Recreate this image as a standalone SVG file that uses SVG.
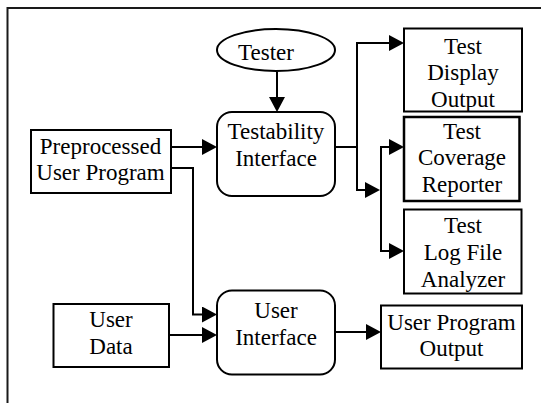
<svg xmlns="http://www.w3.org/2000/svg" width="541" height="403" viewBox="0 0 541 403">
<style>
  .box{fill:#fff;stroke:#000;stroke-width:2}
  .frame{fill:#fff;stroke:#1a1a1a;stroke-width:2}
  .t{font-family:"Liberation Serif","Times New Roman",serif;font-size:23px;fill:#000;text-anchor:middle}
  .c{fill:none;stroke:#000;stroke-width:2}
  .a{marker-end:url(#arr)}
</style>
<defs>
  <marker id="arr" markerUnits="userSpaceOnUse" markerWidth="15" markerHeight="16" viewBox="0 0 15 16" refX="10" refY="8" orient="auto">
    <path d="M0,0 L15,8 L0,16 z" fill="#000"/>
  </marker>
</defs>
<rect class="frame" x="7.5" y="8" width="600" height="500"/>

<g id="connectors">
  <path class="c a" d="M277,71.5 V107"/>
  <path class="c a" d="M171,147 H212"/>
  <path class="c a" d="M171,168 H193 V314.5 H212"/>
  <path class="c a" d="M169,335 H212"/>
  <path class="c a" d="M335,332 H376"/>
  <path class="c" d="M335,147 H357"/>
  <path class="c a" d="M357,147 V43 H399"/>
  <path class="c a" d="M357,146 V190 H375"/>
  <path class="c a" d="M381,147 H399"/>
  <path class="c a" d="M381,146 V251 H399"/>
</g>

<g id="tester">
  <ellipse class="box" cx="276" cy="50" rx="59" ry="21"/>
  <text class="t" x="266" y="60">Tester</text>
</g>
<g id="testability-interface">
  <rect class="box" x="217" y="112" width="118" height="84" rx="15"/>
  <text class="t" x="276" y="138.5">Testability</text>
  <text class="t" x="276" y="166">Interface</text>
</g>
<g id="preprocessed-user-program">
  <rect class="box" x="31" y="130" width="140" height="63"/>
  <text class="t" x="100.5" y="153.5">Preprocessed</text>
  <text class="t" x="100.5" y="180">User Program</text>
</g>
<g id="test-display-output">
  <rect class="box" x="404" y="28.5" width="118" height="83"/>
  <text class="t" x="463" y="53.5">Test</text>
  <text class="t" x="463" y="80">Display</text>
  <text class="t" x="463" y="106.5">Output</text>
</g>
<g id="test-coverage-reporter">
  <rect class="box" x="404" y="117" width="115.5" height="84" style="stroke-width:2.5"/>
  <text class="t" x="462" y="138.5">Test</text>
  <text class="t" x="462" y="165">Coverage</text>
  <text class="t" x="462" y="191.5">Reporter</text>
</g>
<g id="test-log-file-analyzer">
  <rect class="box" x="404" y="209.5" width="117.5" height="84"/>
  <text class="t" x="463" y="232.5">Test</text>
  <text class="t" x="463" y="260">Log File</text>
  <text class="t" x="463" y="287">Analyzer</text>
</g>
<g id="user-data">
  <rect class="box" x="53.5" y="304" width="115.5" height="63"/>
  <text class="t" x="111" y="327">User</text>
  <text class="t" x="111" y="353.5">Data</text>
</g>
<g id="user-interface">
  <rect class="box" x="217" y="290.5" width="118" height="84" rx="15"/>
  <text class="t" x="276" y="317.5">User</text>
  <text class="t" x="276" y="345">Interface</text>
</g>
<g id="user-program-output">
  <rect class="box" x="381" y="305.5" width="141" height="63"/>
  <text class="t" x="451.5" y="329.5">User Program</text>
  <text class="t" x="451.5" y="356">Output</text>
</g>
</svg>
